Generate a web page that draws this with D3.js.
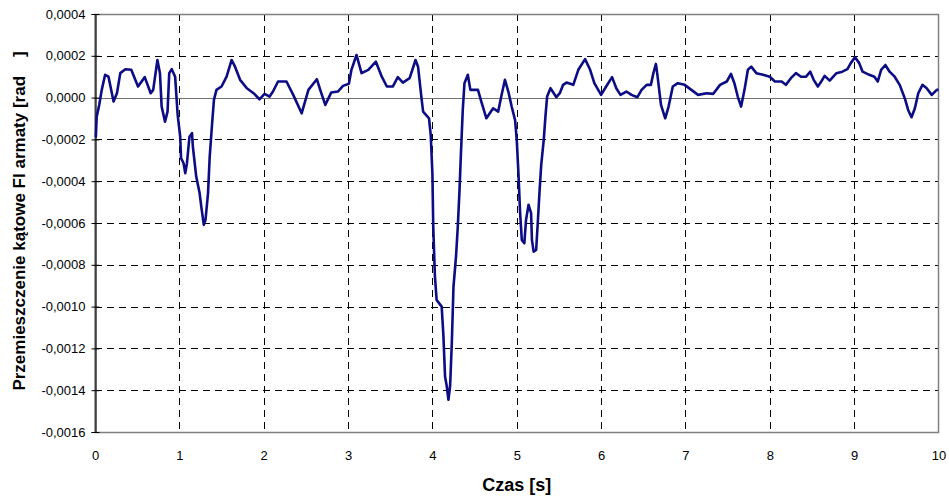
<!DOCTYPE html>
<html>
<head>
<meta charset="utf-8">
<script src="https://cdn.jsdelivr.net/npm/d3@7"></script>
<style>
  body { margin: 0; background: #fff; }
  svg { display: block; font-family: "Liberation Sans", Arial, sans-serif; }
</style>
</head>
<body>
<div id="chart"></div>
<script>
// time [s]
const timeS = [0.00, 0.01, 0.02, 0.05, 0.08, 0.12, 0.16, 0.22, 0.26, 0.30, 0.36, 0.43, 0.51, 0.59, 0.66, 0.69,
  0.74, 0.77, 0.79, 0.83, 0.86, 0.88, 0.91, 0.95, 0.98, 1.01, 1.02, 1.05, 1.07, 1.09, 1.12, 1.15, 1.16, 1.20,
  1.24, 1.26, 1.29, 1.31, 1.34, 1.36, 1.39, 1.41, 1.44, 1.50, 1.56, 1.62, 1.66, 1.72, 1.80, 1.88, 1.95, 2.01,
  2.07, 2.11, 2.17, 2.27, 2.35, 2.45, 2.53, 2.63, 2.67, 2.73, 2.80, 2.88, 2.94, 3.01, 3.04, 3.10, 3.16, 3.24,
  3.33, 3.40, 3.46, 3.53, 3.59, 3.65, 3.73, 3.80, 3.83, 3.87, 3.89, 3.96, 3.98, 4.00, 4.01, 4.03, 4.05, 4.11,
  4.13, 4.15, 4.17, 4.19, 4.21, 4.23, 4.25, 4.28, 4.30, 4.32, 4.34, 4.36, 4.38, 4.42, 4.45, 4.54, 4.58, 4.64,
  4.72, 4.78, 4.82, 4.86, 4.90, 4.94, 4.98, 5.00, 5.02, 5.04, 5.06, 5.09, 5.11, 5.14, 5.17, 5.18, 5.20, 5.23,
  5.25, 5.27, 5.29, 5.32, 5.34, 5.36, 5.40, 5.47, 5.51, 5.55, 5.59, 5.67, 5.73, 5.81, 5.87, 5.92, 6.00, 6.06,
  6.13, 6.18, 6.23, 6.30, 6.36, 6.43, 6.48, 6.54, 6.59, 6.62, 6.65, 6.67, 6.71, 6.76, 6.80, 6.85, 6.91, 6.99,
  7.07, 7.15, 7.25, 7.33, 7.41, 7.49, 7.54, 7.58, 7.62, 7.66, 7.70, 7.74, 7.78, 7.84, 7.92, 8.00, 8.06, 8.14,
  8.19, 8.25, 8.31, 8.37, 8.43, 8.48, 8.52, 8.57, 8.61, 8.65, 8.71, 8.79, 8.86, 8.92, 8.96, 9.01, 9.06, 9.10,
  9.18, 9.24, 9.28, 9.32, 9.37, 9.42, 9.48, 9.54, 9.60, 9.64, 9.68, 9.72, 9.76, 9.81, 9.86, 9.92, 9.98, 10.00];

// angular displacement, in units of 1e-4 rad
const angle1e4 = [-1.90, -1.87, -0.91, -0.35, 0.37, 1.09, 1.00, -0.19, 0.21, 1.17, 1.36, 1.33, 0.53, 0.98, 0.21, 0.37,
  1.80, 1.17, -0.43, -1.15, -0.67, 1.17, 1.36, 1.00, -0.83, -1.87, -2.90, -3.14, -3.62, -3.14, -1.87, -1.70, -2.34, -3.78,
  -4.57, -5.22, -6.09, -5.85, -4.57, -2.82, -1.15, -0.11, 0.37, 0.53, 1.00, 1.80, 1.48, 0.85, 0.45, 0.21, -0.08, 0.18,
  0.05, 0.29, 0.77, 0.77, 0.13, -0.75, 0.37, 0.88, 0.37, -0.35, 0.24, 0.29, 0.56, 0.66, 1.33, 2.04, 1.17, 1.33,
  1.72, 1.00, 0.53, 0.53, 0.98, 0.72, 0.93, 1.80, 1.48, 0.00, -0.67, -0.99, -1.78, -3.62, -6.17, -8.56, -9.68, -10.00,
  -11.35, -13.35, -13.80, -14.46, -13.80, -11.75, -9.04, -7.60, -6.25, -4.57, -2.50, -0.59, 0.69, 1.09, 0.37, 0.37, -0.19, -0.99,
  -0.51, -0.67, 0.13, 0.85, 0.29, -0.43, -1.07, -2.02, -3.62, -5.53, -6.81, -6.97, -5.85, -5.13, -5.53, -6.81, -7.37, -7.29,
  -5.93, -4.50, -3.22, -2.02, -0.91, 0.05, 0.45, 0.02, 0.21, 0.61, 0.72, 0.61, 1.33, 1.84, 1.33, 0.69, 0.13, 0.53,
  0.98, 0.45, 0.13, 0.29, 0.13, 0.02, 0.37, 0.61, 0.61, 1.17, 1.61, 1.00, -0.35, -0.99, -0.43, 0.53, 0.69, 0.61,
  0.37, 0.13, 0.21, 0.18, 0.61, 0.77, 1.13, 0.69, 0.05, -0.43, 0.37, 1.33, 1.48, 1.17, 1.09, 1.00, 0.77, 0.77,
  0.61, 0.93, 1.17, 1.00, 1.00, 1.24, 0.85, 0.53, 0.77, 1.04, 0.81, 1.17, 1.24, 1.36, 1.65, 1.93, 1.65, 1.24,
  1.09, 1.00, 0.77, 1.33, 1.56, 1.24, 1.00, 0.61, -0.03, -0.59, -0.94, -0.51, 0.21, 0.61, 0.45, 0.13, 0.37, 0.37];

const xTicks = [0, 1, 2, 3, 4, 5, 6, 7, 8, 9, 10];
const yTicks = [0.0004, 0.0002, 0, -0.0002, -0.0004, -0.0006, -0.0008, -0.0010, -0.0012, -0.0014, -0.0016];

const xLabel = "Czas [s]";
const yLabel = "Przemieszczenie kątowe FI armaty [rad    ]";

const width = 949, height = 497;
const margin = {left: 95, right: 10, top: 14, bottom: 65};

const plLocale = d3.formatLocale({decimal: ",", thousands: " ", grouping: [3], currency: ["", " zł"], minus: "-"});
const fmtY = plLocale.format(".4f");

const svg = d3.select("#chart").append("svg")
    .attr("width", width)
    .attr("height", height);

const x = d3.scaleLinear().domain([0, 10]).range([margin.left, width - margin.right - 0.5]);
const y = d3.scaleLinear().domain([-0.0016, 0.0004]).range([height - margin.bottom, margin.top]);

const data = timeS.map(function(t, i) { return {t: t, v: angle1e4[i] * 1e-4}; });

// dashed grid
const grid = svg.append("g").classed("grid", true);
grid.selectAll("line.hgrid")
    .data(yTicks.filter(function(d) { return d !== 0 && d !== 0.0004 && d !== -0.0016; }))
    .enter().append("line")
    .attr("x1", x(0)).attr("x2", x(10))
    .attr("y1", function(d) { return Math.round(y(d)) + 0.5; })
    .attr("y2", function(d) { return Math.round(y(d)) + 0.5; })
    .attr("stroke", "#000").attr("stroke-width", 1)
    .attr("stroke-dasharray", "7,5");

grid.selectAll("line.vgrid")
    .data(xTicks.filter(function(d) { return d !== 0 && d !== 10; }))
    .enter().append("line")
    .attr("x1", function(d) { return Math.round(x(d)) + 0.5; })
    .attr("x2", function(d) { return Math.round(x(d)) + 0.5; })
    .attr("y1", y(0.0004)).attr("y2", y(-0.0016))
    .attr("stroke", "#000").attr("stroke-width", 1)
    .attr("stroke-dasharray", "7,5");

// plot frame (grey) and zero line
svg.append("rect")
    .attr("x", x(0)).attr("y", Math.round(y(0.0004)) + 0.5)
    .attr("width", x(10) - x(0))
    .attr("height", y(-0.0016) - y(0.0004))
    .attr("fill", "none")
    .attr("stroke", "#808080").attr("stroke-width", 1.5);

svg.append("line")
    .attr("x1", x(0)).attr("x2", x(10))
    .attr("y1", Math.round(y(0)) + 0.5).attr("y2", Math.round(y(0)) + 0.5)
    .attr("stroke", "#707070").attr("stroke-width", 1.2);

// y axis (black, with crossing ticks)
const yAxis = d3.axisLeft(y).tickValues(yTicks).tickFormat(fmtY).tickSize(4).tickPadding(6);
const gy = svg.append("g")
    .attr("transform", "translate(" + (Math.round(x(0)) + 0.5) + ",0)")
    .call(yAxis);
gy.select(".domain").attr("stroke", "#000").attr("stroke-width", 1.2);
gy.selectAll(".tick line").attr("x2", -4).attr("x1", 4).attr("stroke", "#000");
gy.selectAll(".tick text")
    .attr("font-size", 13)
    .attr("font-family", "Liberation Sans, Arial, sans-serif")
    .attr("fill", "#000")
    .attr("x", -10);

// x axis labels
const xAxis = d3.axisBottom(x).tickValues(xTicks).tickFormat(d3.format("d")).tickSize(0).tickPadding(19);
const gx = svg.append("g")
    .attr("transform", "translate(0," + y(-0.0016) + ")")
    .call(xAxis);
gx.select(".domain").remove();
gx.selectAll(".tick text")
    .attr("font-size", 13)
    .attr("font-family", "Liberation Sans, Arial, sans-serif")
    .attr("fill", "#000");

// data line
const line = d3.line()
    .x(function(d) { return x(d.t); })
    .y(function(d) { return y(d.v); });

svg.append("path")
    .datum(data)
    .attr("fill", "none")
    .attr("stroke", "#0c0c84")
    .attr("stroke-width", 2.6)
    .attr("stroke-linejoin", "round")
    .attr("d", line);

// axis titles
svg.append("text")
    .attr("x", (x(0) + x(10)) / 2)
    .attr("y", 491)
    .attr("text-anchor", "middle")
    .attr("font-size", 18)
    .attr("font-weight", "bold")
    .text(xLabel);

svg.append("text")
    .attr("transform", "translate(25," + 221 + ") rotate(-90)")
    .attr("text-anchor", "middle")
    .attr("font-size", 17)
    .attr("font-weight", "bold")
    .style("white-space", "pre")
    .text(yLabel);
</script>
</body>
</html>
